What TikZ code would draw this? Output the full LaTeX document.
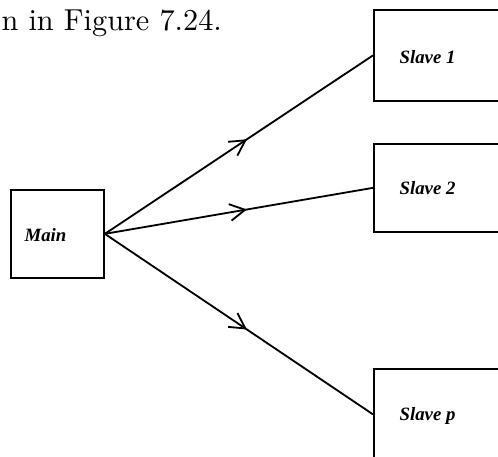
\documentclass[tikz,border=0pt]{standalone}
\usepackage{fontspec}
\usepackage{tikz}
\usetikzlibrary{arrows.meta,decorations.markings}
\newfontfamily\boxfont{Liberation Serif}
\tikzset{
  procbox/.style={draw, line width=0.6pt, rectangle, inner sep=0pt},
  boxlabel/.style={anchor=west, inner sep=0pt,
    font=\boxfont\bfseries\itshape\fontsize{6.2}{7}\selectfont},
  midarrow/.style={line width=0.6pt, postaction={decorate},
    decoration={markings, mark=at position 0.53 with {\arrow{Straight Barb[length=5pt,width=5.5pt,line width=0.6pt]}}}}
}

\begin{document}
\begin{tikzpicture}[x=0.33pt,y=-0.33pt]
  \useasboundingbox (0,0) rectangle (498,457);
  \clip (0,0) rectangle (498,457);
  \node[anchor=base west, inner sep=0pt, font=\fontsize{10}{12}\selectfont] (caption) at (1,30) {n in Figure 7.24.};
  % main process
  \node[procbox, anchor=north west, minimum width=30.7pt, minimum height=29pt] (main) at (10,189) {};
  \node[boxlabel] (mainlbl) at (24,235) {Main};
  % slaves
  \node[procbox, anchor=north west, minimum width=50pt, minimum height=30pt] (s1) at (373,9) {};
  \node[procbox, anchor=north west, minimum width=50pt, minimum height=29pt] (s2) at (373,143) {};
  \node[procbox, anchor=north west, minimum width=50pt, minimum height=30pt] (sp) at (373,368) {};
  \node[boxlabel] (s1lbl) at (399,57) {Slave 1};
  \node[boxlabel] (s2lbl) at (399,188) {Slave 2};
  \node[boxlabel] (splbl) at (399,416) {Slave p};
  \draw[midarrow] (main.east) -- (s1.west);
  \draw[midarrow] (main.east) -- (s2.west);
  \draw[midarrow] (main.east) -- (sp.west);
\end{tikzpicture}
\end{document}
